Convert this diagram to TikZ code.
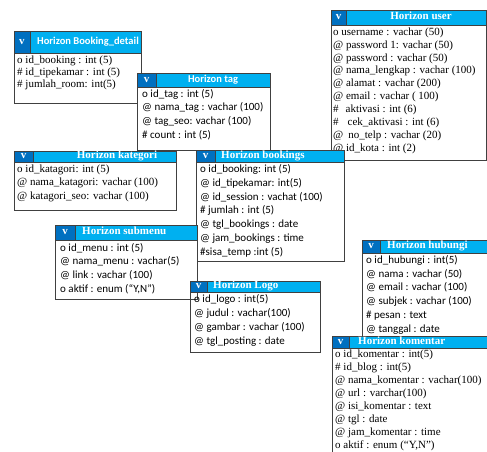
\documentclass[tikz,border=0pt]{standalone}
\usepackage{fontspec}
\setmainfont{Liberation Serif}
\newfontfamily\serifface{Liberation Serif}
\newfontfamily\sansface{Carlito}

\definecolor{hdrlight}{HTML}{00B0F0}
\definecolor{hdrdark}{HTML}{0070C0}
\definecolor{edge}{HTML}{404040}

\newcommand\fserif{\serifface\fontsize{11}{13}\selectfont}
\newcommand\fsans{\sansface\fontsize{11}{13}\selectfont}
\newcommand\fserifb{\serifface\bfseries\fontsize{11}{13}\selectfont}
\newcommand\fsansb{\sansface\bfseries\fontsize{10.5}{13}\selectfont}

\tikzset{
  bodybox/.style={draw=edge, line width=0.8pt},
  solidbody/.style={fill=white},
  openbody/.style={},
  titlecell/.style={draw=edge, fill=hdrlight, line width=0.8pt},
  vcell/.style={draw=edge, fill=hdrdark, line width=0.8pt},
  vmark/.style={text=white, font=\fserifb, inner sep=0pt},
  titletext/.style={text=white, inner sep=0pt},
  fieldtext/.style={anchor=mid west, inner sep=0pt, text=black},
}

% table frame: name, x1, y1, x2, y2, header bottom, v-cell right edge, body style
\newcommand{\erframe}[8]{%
  \path[bodybox,#8] (#2,#3) rectangle (#4,#5);
  \path[titlecell] (#7,#3) rectangle (#4,#6);
  \path[vcell] (#2,#3) rectangle (#7,#6);
  \node[vmark] (#1-v) at ({(#2+#7)/2},{(#3+#6)/2}) {v};
}

% field rows: name, x, first row y, row step, font, list of rows
\newcommand{\errows}[6]{%
  \foreach \rt [count=\k] in {#6} {
    \node[fieldtext, font=#5] (#1-\k) at (#2,{#3+(\k-1)*#4}) {\rt};
  }
}

\begin{document}
\begin{tikzpicture}[x=1pt,y=-1pt]
\useasboundingbox (0,0) rectangle (487,452);
\clip (0,0) rectangle (487,452);

% Horizon Booking_detail
\erframe{detail}{14}{31}{141}{103}{53}{30}{solidbody}
\node[titletext, font=\fsansb, anchor=mid west] (detail-title) at (37,42) {Horizon Booking\_detail};
\errows{detail}{17}{61}{12}{\fserif}{{o id\_booking : int (5)},{\# id\_tipekamar : int (5)},{\# jumlah\_room: int(5)}}

% Horizon tag
\erframe{tag}{137}{73}{270}{150}{87}{156}{solidbody}
\node[titletext, font=\fsansb, anchor=mid] (tag-title) at (213,80) {Horizon tag};
\errows{tag}{142}{95}{13.7}{\fsans}{{o id\_tag : int (5)},{@ nama\_tag : vachar (100)},{@ tag\_seo: vachar (100)},{\# count : int (5)}}

% Horizon user
\erframe{user}{331}{10}{486}{160}{25}{346}{solidbody}
\node[titletext, font=\fserifb, anchor=mid] (user-title) at (421,17.5) {Horizon user};
\errows{user}{333}{33}{12.9}{\fserif}{{o username : vachar (50)},{@ password 1: vachar (50)},{@ password : vachar (50)},{@ nama\_lengkap : vachar (100)},{@ alamat : vachar (200)},{@ email : vachar ( 100)},{\#\hspace{7pt}aktivasi : int (6)},{\#\hspace{9pt}cek\_aktivasi : int (6)},{@\hspace{5pt}no\_telp : vachar (20)},{@ id\_kota : int (2)}}

% Horizon kategori
\erframe{kat}{14}{151}{176}{210}{162}{33}{solidbody}
\node[titletext, font=\fserifb, anchor=mid] (kat-title) at (117,156.5) {Horizon kategori};
\errows{kat}{17}{170}{13.5}{\fserif}{{o id\_katagori: int (5)},{@ nama\_katagori: vachar (100)},{@ katagori\_seo: vachar (100)}}

% Horizon bookings
\erframe{book}{196}{150}{344}{261}{162}{215}{solidbody}
\node[titletext, font=\fserifb, anchor=mid west] (book-title) at (221,156) {Horizon bookings};
\errows{book}{200}{170}{13.9}{\fsans}{{o id\_booking: int (5)},{@ id\_tipekamar: int(5)},{@ id\_session : vachat (100)},{\# jumlah : int (5)},{@ tgl\_bookings : date},{@ jam\_bookings : time},{\#sisa\_temp :int (5)}}

% Horizon submenu
\erframe{sub}{55}{225}{197}{299}{240}{75}{solidbody}
\node[titletext, font=\fserifb, anchor=mid west] (sub-title) at (82,232) {Horizon submenu};
\errows{sub}{60}{249}{13.6}{\fsans}{{o id\_menu : int (5)},{@ nama\_menu : vachar(5)},{@ link : vachar (100)},{o aktif : enum (“Y,N”)}}

% Horizon Logo
\erframe{logo}{190}{281}{320}{352}{292}{207}{openbody}
\node[titletext, font=\fserifb, anchor=mid west] (logo-title) at (213,286.5) {Horizon Logo};
\errows{logo}{194}{300}{14.2}{\fsans}{{o id\_logo : int(5)},{@ judul : vachar(100)},{@ gambar : vachar (100)},{@ tgl\_posting : date}}

% Horizon hubungi
\erframe{hub}{362}{240}{492}{345}{253}{380}{solidbody}
\node[titletext, font=\fserifb, anchor=mid west] (hub-title) at (387,246.5) {Horizon hubungi};
\errows{hub}{366}{261}{13.8}{\fsans}{{o id\_hubungi : int(5)},{@ nama : vachar (50)},{@ email : vachar (100)},{@ subjek : vachar (100)},{\# pesan : text},{@ tanggal : date}}

% Horizon komentar
\erframe{kom}{332}{336}{492}{460}{348}{349}{solidbody}
\node[titletext, font=\fserifb, anchor=mid west] (kom-title) at (358,342) {Horizon komentar};
\errows{kom}{335}{355}{13}{\fserif}{{o id\_komentar : int(5)},{\# id\_blog : int(5)},{@ nama\_komentar : vachar(100)},{@ url : varchar(100)},{@ isi\_komentar : text},{@ tgl : date},{@ jam\_komentar : time},{o aktif : enum (“Y,N”)}}
\end{tikzpicture}
\end{document}
